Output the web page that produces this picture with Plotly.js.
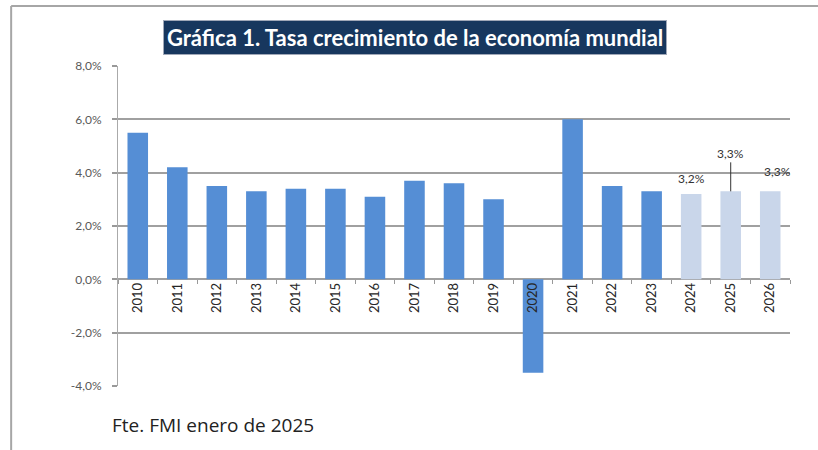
<!DOCTYPE html>
<html>
<head>
<meta charset="utf-8">
<script src="https://cdn.plot.ly/plotly-3.0.1.min.js"></script>
<style>html,body{margin:0;padding:0;background:#fff;}#chart{width:818px;height:450px;}</style>
</head>
<body>
<div id="chart"></div>
<script>
const years = ['2010','2011','2012','2013','2014','2015','2016','2017','2018','2019','2020','2021','2022','2023','2024','2025','2026'];
const growth = [5.5, 4.2, 3.5, 3.3, 3.4, 3.4, 3.1, 3.7, 3.6, 3.0, -3.5, 6.0, 3.5, 3.3, 3.2, 3.3, 3.3];
const isForecast = [false,false,false,false,false,false,false,false,false,false,false,false,false,false,true,true,true];
const yTicks = [-4, -2, 0, 2, 4, 6, 8];
const titleText = 'Gráfica 1. Tasa crecimiento de la economía mundial';
const sourceText = 'Fte. FMI enero de 2025';

const fmt = v => v.toFixed(1).replace('.', ',') + '%';
const colors = isForecast.map(f => f ? '#c9d6ea' : '#558ed5');

const trace = {
  type: 'bar',
  x: years,
  y: growth,
  marker: {color: colors, line: {width: 0}},
  hoverinfo: 'x+y'
};

const fIdx = isForecast.map((f,i)=>f?i:-1).filter(i=>i>=0);
const labelCfg = [
  {ay: -12, arrow: false, xshift: 0},
  {ay: -38, arrow: true, xshift: 0},
  {ay: -16, arrow: false, xshift: 7}
];
const annotations = fIdx.map((i, k) => {
  const c = labelCfg[k];
  const a = {
    x: i, y: growth[i], xref: 'x', yref: 'y',
    text: fmt(growth[i]),
    font: {family: 'Lato, sans-serif', size: 12, color: '#333'},
    xshift: c.xshift
  };
  if (c.arrow) {
    Object.assign(a, {showarrow: true, arrowhead: 0, arrowwidth: 1, arrowcolor: '#333', ax: 0, ay: c.ay, standoff: 0});
  } else {
    Object.assign(a, {showarrow: false, yanchor: 'bottom', yshift: -c.ay - 6});
  }
  return a;
});

annotations.push({
  xref: 'paper', yref: 'paper', x: 0.442, y: 1.09, xanchor: 'center', yanchor: 'middle',
  text: '<b>' + titleText + '</b>', showarrow: false,
  font: {family: 'Lato, sans-serif', size: 22, color: '#ffffff'},
  bgcolor: '#17375e', bordercolor: '#a0a8b8', borderwidth: 1, borderpad: 3
});
annotations.push({
  xref: 'paper', yref: 'paper', x: -0.012, y: -0.122, xanchor: 'left', yanchor: 'middle',
  text: sourceText, showarrow: false,
  font: {family: 'Open Sans, sans-serif', size: 19, color: '#222'}
});

const layout = {
  width: 818, height: 450,
  margin: {l: 118, r: 28, t: 66, b: 64},
  paper_bgcolor: '#fff', plot_bgcolor: '#fff',
  separators: ',.',
  showlegend: false,
  bargap: 0.48,
  xaxis: {
    type: 'category',
    range: [-0.5, years.length - 0.5],
    autorange: false,
    anchor: 'free', position: 4/12,
    tickangle: -90,
    ticks: 'outside', ticklen: 4, tickcolor: '#999', tickson: 'boundaries',
    tickfont: {family: 'Lato, sans-serif', size: 13, color: '#262626'},
    showline: false, showgrid: false, zeroline: false,
    fixedrange: true
  },
  yaxis: {
    range: [-4, 8],
    autorange: false,
    tickvals: yTicks,
    ticktext: yTicks.map(fmt),
    ticks: 'outside', ticklen: 5, tickcolor: '#999', tickwidth: 2,
    ticklabelstandoff: 8,
    tickfont: {family: 'Lato, sans-serif', size: 12, color: '#595959'},
    showline: true, linecolor: '#aaa', linewidth: 1,
    showgrid: true, gridcolor: '#a0a0a0', gridwidth: 2,
    zeroline: true, zerolinecolor: '#a0a0a0', zerolinewidth: 2,
    fixedrange: true
  },
  shapes: [
    {type: 'line', xref: 'paper', yref: 'paper', x0: -0.159, x1: 1.05, y0: 1.1875, y1: 1.1875, line: {color: '#a6a6a6', width: 2}},
    {type: 'line', xref: 'paper', yref: 'paper', x0: -0.159, x1: -0.159, y0: 1.1875, y1: -0.2, line: {color: '#a6a6a6', width: 2}}
  ],
  annotations: annotations
};

Plotly.newPlot('chart', [trace], layout, {displayModeBar: false, staticPlot: true});
</script>
</body>
</html>
